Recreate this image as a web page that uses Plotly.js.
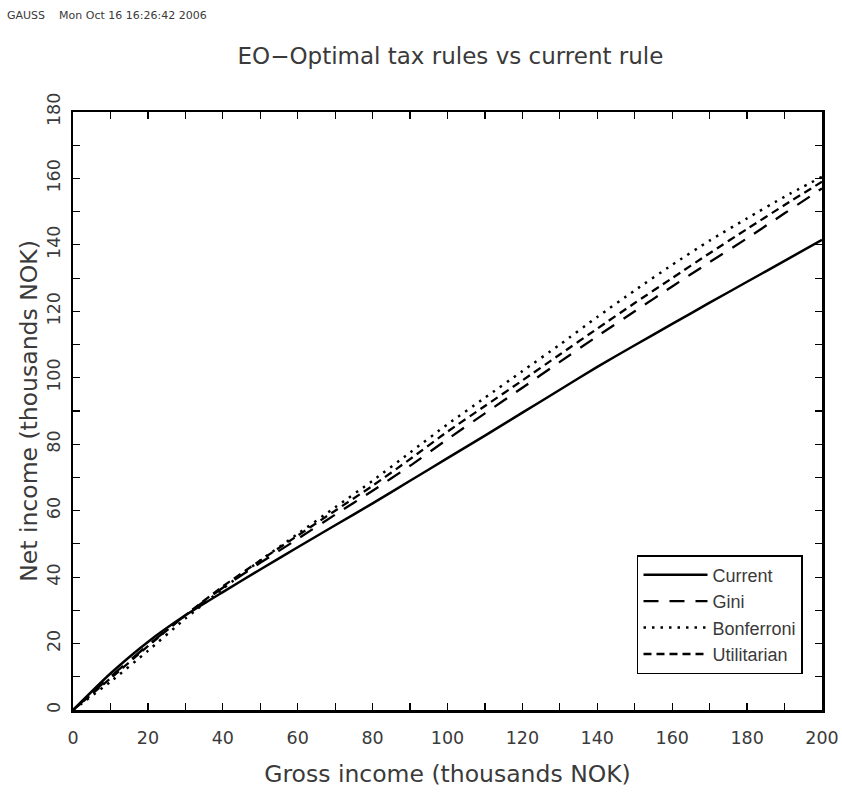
<!DOCTYPE html>
<html><head><meta charset="utf-8">
<script src="https://cdn.plot.ly/plotly-3.0.1.min.js"></script>
<style>html,body{margin:0;padding:0;background:#fff}</style>
</head><body><div id="chart" style="width:842px;height:794px"></div>
<script>
const grossIncome = [0,10,20,30,40,50,60,70,80,90,100,110,120,130,140,150,160,170,180,190,200];
const current     = [0,11,20.5,28.5,35.5,42.3,49,55.6,62.2,69,75.8,82.6,89.5,96.4,103.3,109.8,116.2,122.6,128.9,135.2,141.5];
const gini        = [0,10,19.5,28.5,36.8,44.3,51.5,58.8,66,73.5,81.5,89.3,97,104.8,112.5,120,127.5,134.8,142,149.5,157];
const bonferroni  = [0,8.5,17.8,27.5,36.5,45,53,61,69,77.5,86,94,102,110,118.3,126.3,134,141.3,148,154.5,160.5];
const utilitarian = [0,9.5,19.2,28.5,37.2,45,52.5,60,67.5,75.5,83.8,91.5,99.2,107,114.8,122.5,130,137.5,144.8,152,159];
const seriesNames = ['Current','Gini','Bonferroni','Utilitarian'];
const chartTitle = 'EO\u2212Optimal tax rules vs current rule';
const headerText = 'GAUSS\u00a0\u00a0\u00a0\u00a0Mon Oct 16 16:26:42 2006';
const xTitle = 'Gross income (thousands NOK)';
const yTitle = 'Net income (thousands NOK)';

const FONT = 'DejaVu Sans, Liberation Sans, sans-serif';
const TXT = '#3a3a3a';
const series = [current, gini, bonferroni, utilitarian];
const dashes = ['solid', '15px,11px', '2.5px,6px', '8px,5px'];
const widths = [2.5, 2.3, 2.5, 2.3];

const traces = series.map((ys, i) => ({
  type: 'scatter', mode: 'lines', x: grossIncome, y: ys, name: seriesNames[i],
  line: {color: '#000', width: widths[i], dash: dashes[i], shape: 'spline', smoothing: 0.6}
}));

const axisCommon = {
  showgrid: false, zeroline: false, showline: true, linecolor: '#000', linewidth: 2.5,
  mirror: 'ticks', ticks: 'inside', ticklen: 7, tickwidth: 1.2, tickcolor: '#000',
  tickfont: {family: FONT, size: 17.5, color: TXT},
  minor: {dtick: 10, ticks: 'inside', ticklen: 7, tickwidth: 1.2, tickcolor: '#000'}
};

const layout = {
  width: 842, height: 794,
  margin: {l: 73, r: 20, t: 112, b: 84},
  paper_bgcolor: '#fff', plot_bgcolor: '#fff',
  showlegend: true,
  title: {text: chartTitle, font: {family: FONT, size: 23, color: TXT},
          x: 0.535, xanchor: 'center', y: 0.93, yanchor: 'middle'},
  xaxis: Object.assign({}, axisCommon, {
    range: [0, 200], tick0: 0, dtick: 20, ticklabelstandoff: 10,
    title: {text: xTitle, font: {family: FONT, size: 23.5, color: TXT}, standoff: 19}
  }),
  yaxis: Object.assign({}, axisCommon, {
    range: [0, 180], tick0: 0, dtick: 20, tickangle: -90, ticklabelstandoff: 4,
    title: {text: yTitle, font: {family: FONT, size: 23.5, color: TXT}, standoff: 0}
  }),
  legend: {
    x: 0.753, y: 0.259, xanchor: 'left', yanchor: 'top',
    bgcolor: '#fff', bordercolor: '#000', borderwidth: 1.5,
    font: {family: 'Liberation Sans, DejaVu Sans, sans-serif', size: 18, color: TXT},
    itemwidth: 64, tracegroupgap: 0
  },
  annotations: [{
    text: headerText, xref: 'paper', yref: 'paper', x: -0.0908, y: 1.162,
    xanchor: 'left', yanchor: 'middle', showarrow: false,
    font: {family: FONT, size: 11, color: TXT}
  }]
};

Plotly.newPlot('chart', traces, layout, {displayModeBar: false, staticPlot: true});
</script>
</body></html>
